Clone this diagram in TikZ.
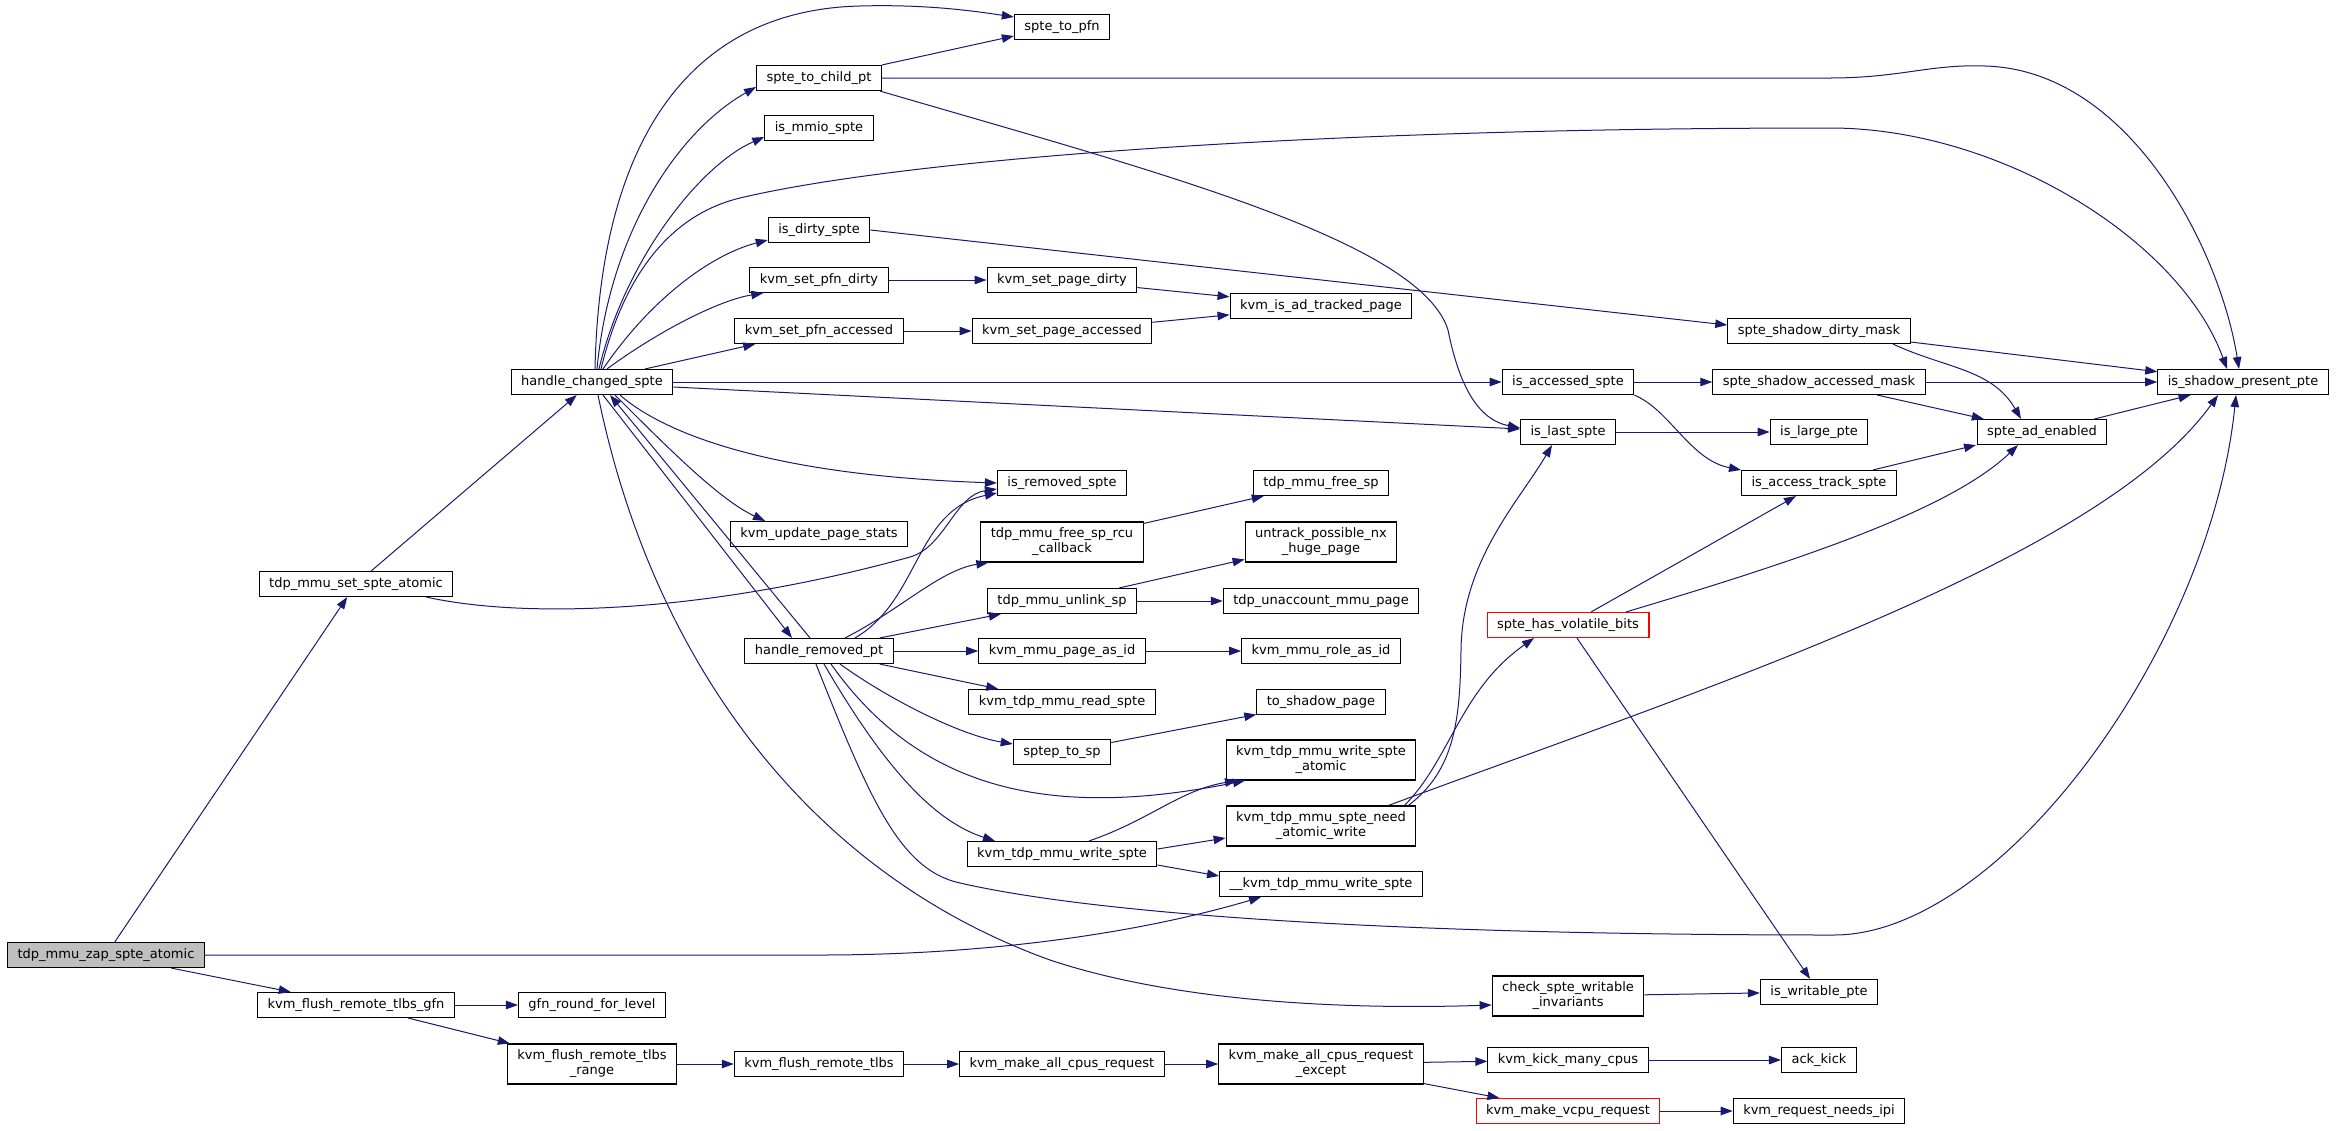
\documentclass[tikz,border=0pt]{standalone}
\usepackage{fontspec}
\setmainfont{DejaVu Sans}
\usetikzlibrary{arrows.meta}
\definecolor{edgeBlue}{HTML}{191970}
\newcommand{\fnFont}[0]{\fontsize{13}{15}\selectfont}

\begin{document}
\begin{tikzpicture}[x=1pt, y=-1pt]
  \tikzset{fn/.style={draw=black, line width=1.1pt, fill=white, font=\fnFont, align=center, minimum height=25pt, inner xsep=10pt, inner ysep=2pt}}
  \tikzset{fn2/.style={fn, minimum height=40pt}}
  \tikzset{call/.style={draw=edgeBlue, line width=1pt, -{Triangle[length=12pt,width=8.5pt]}}}
  \useasboundingbox (0,0) rectangle (2336,1130);

  % callers on the left
  \node[fn, fill=gray!50] (zap-atomic) at (106,955) {tdp\_mmu\_zap\_spte\_atomic};
  \node[fn] (set-atomic) at (356,584) {tdp\_mmu\_set\_spte\_atomic};
  \node[fn] (flush-gfn) at (356,1005) {kvm\_flush\_remote\_tlbs\_gfn};
  \node[fn] (handle-changed) at (592,382) {handle\_changed\_spte};
  \node[fn] (gfn-round) at (592,1005) {gfn\_round\_for\_level};
  \node[fn2] (flush-range) at (592,1064) {kvm\_flush\_remote\_tlbs\\\_range};

  % column 4
  \node[fn] (child-pt) at (819,78) {spte\_to\_child\_pt};
  \node[fn] (mmio) at (819,128) {is\_mmio\_spte};
  \node[fn] (dirty) at (819,230) {is\_dirty\_spte};
  \node[fn] (pfn-dirty) at (819,280) {kvm\_set\_pfn\_dirty};
  \node[fn] (pfn-accessed) at (819,331) {kvm\_set\_pfn\_accessed};
  \node[fn] (page-stats) at (819,534) {kvm\_update\_page\_stats};
  \node[fn] (handle-removed) at (819,651) {handle\_removed\_pt};
  \node[fn] (flush-tlbs) at (819,1064) {kvm\_flush\_remote\_tlbs};

  % column 5
  \node[fn] (to-pfn) at (1062,27) {spte\_to\_pfn};
  \node[fn] (page-dirty) at (1062,280) {kvm\_set\_page\_dirty};
  \node[fn] (page-accessed) at (1062,331) {kvm\_set\_page\_accessed};
  \node[fn] (removed) at (1062,483) {is\_removed\_spte};
  \node[fn2] (rcu-cb) at (1062,542) {tdp\_mmu\_free\_sp\_rcu\\\_callback};
  \node[fn] (unlink) at (1062,601) {tdp\_mmu\_unlink\_sp};
  \node[fn] (page-as-id) at (1062,651) {kvm\_mmu\_page\_as\_id};
  \node[fn] (read-spte) at (1062,702) {kvm\_tdp\_mmu\_read\_spte};
  \node[fn] (sptep-sp) at (1062,752) {sptep\_to\_sp};
  \node[fn] (write-spte) at (1062,854) {kvm\_tdp\_mmu\_write\_spte};
  \node[fn] (make-all) at (1062,1064) {kvm\_make\_all\_cpus\_request};

  % column 6
  \node[fn] (ad-tracked) at (1321,306) {kvm\_is\_ad\_tracked\_page};
  \node[fn] (free-sp) at (1321,483) {tdp\_mmu\_free\_sp};
  \node[fn2] (untrack) at (1321,542) {untrack\_possible\_nx\\\_huge\_page};
  \node[fn] (unaccount) at (1321,601) {tdp\_unaccount\_mmu\_page};
  \node[fn] (role-as-id) at (1321,651) {kvm\_mmu\_role\_as\_id};
  \node[fn] (shadow-page) at (1321,702) {to\_shadow\_page};
  \node[fn2] (write-atomic) at (1321,760) {kvm\_tdp\_mmu\_write\_spte\\\_atomic};
  \node[fn2] (need-atomic) at (1321,826) {kvm\_tdp\_mmu\_spte\_need\\\_atomic\_write};
  \node[fn] (raw-write) at (1321,884) {\_\_kvm\_tdp\_mmu\_write\_spte};
  \node[fn2] (make-except) at (1321,1064) {kvm\_make\_all\_cpus\_request\\\_except};

  % column 7 and beyond
  \node[fn] (accessed) at (1568,382) {is\_accessed\_spte};
  \node[fn] (last-spte) at (1568,432) {is\_last\_spte};
  \node[fn, draw=red] (volatile) at (1568,625) {spte\_has\_volatile\_bits};
  \node[fn2] (check-writable) at (1568,996) {check\_spte\_writable\\\_invariants};
  \node[fn] (kick-many) at (1568,1060) {kvm\_kick\_many\_cpus};
  \node[fn, draw=red] (vcpu-request) at (1568,1111) {kvm\_make\_vcpu\_request};
  \node[fn] (dirty-mask) at (1819,331) {spte\_shadow\_dirty\_mask};
  \node[fn] (accessed-mask) at (1819,382) {spte\_shadow\_accessed\_mask};
  \node[fn] (large-pte) at (1819,432) {is\_large\_pte};
  \node[fn] (track-spte) at (1819,483) {is\_access\_track\_spte};
  \node[fn] (writable) at (1819,992) {is\_writable\_pte};
  \node[fn] (ack-kick) at (1819,1060) {ack\_kick};
  \node[fn] (needs-ipi) at (1819,1111) {kvm\_request\_needs\_ipi};
  \node[fn] (ad-enabled) at (2042,432) {spte\_ad\_enabled};
  \node[fn] (present) at (2243,382) {is\_shadow\_present\_pte};

  % calls from the root
  \draw[call] (zap-atomic) -- (set-atomic);
  \draw[call] (zap-atomic) -- (flush-gfn);
  \draw[call] (zap-atomic.east) -- (820,955) .. controls (1000,955) and (1150,930) .. ([xshift=-60pt]raw-write.south);
  \draw[call] (set-atomic) -- (handle-changed);
  \draw[call] ([xshift=-27pt]set-atomic.south east) .. controls (520,618) and (700,615) .. (910,557) .. controls (945,547) and (955,495) .. ([yshift=-6pt]removed.west);
  \draw[call] (flush-gfn) -- (gfn-round);
  \draw[call] (flush-gfn) -- (flush-range);
  \draw[call] (flush-range) -- (flush-tlbs);
  \draw[call] (flush-tlbs) -- (make-all);
  \draw[call] (make-all) -- (make-except);
  \draw[call] (make-except) -- (kick-many);
  \draw[call] (make-except) -- (vcpu-request);
  \draw[call] (kick-many) -- (ack-kick);
  \draw[call] (vcpu-request) -- (needs-ipi);

  % handle_changed_spte
  \draw[call] ([xshift=3pt]handle-changed.north) .. controls (600,140) and (690,10) .. (860,6) .. controls (930,4) and (980,12) .. ([yshift=10pt]to-pfn.west);
  \draw[call] ([xshift=5pt]handle-changed.north) .. controls (610,230) and (680,130) .. ([yshift=-9pt]child-pt.west);
  \draw[call] ([xshift=7pt]handle-changed.north) .. controls (625,260) and (700,165) .. ([yshift=-9pt]mmio.west);
  \draw[call] ([xshift=9pt]handle-changed.north) .. controls (630,250) and (690,210) .. (740,198) .. controls (900,160) and (1300,128) .. (1830,128) .. controls (2000,128) and (2180,240) .. ([xshift=-16pt]present.north);
  \draw[call] ([xshift=11pt]handle-changed.north) .. controls (650,300) and (710,255) .. ([yshift=-10pt]dirty.west);
  \draw[call] ([xshift=15pt]handle-changed.north) .. controls (660,330) and (720,300) .. ([xshift=14pt]pfn-dirty.south west);
  \draw[call] ([xshift=53pt]handle-changed.north) -- ([xshift=21pt]pfn-accessed.south west);
  \draw[call] (handle-changed.east) -- (accessed.west);
  \draw[call] ([yshift=-5pt]handle-changed.east) -- ([yshift=3pt]last-spte.west);
  \draw[call] ([xshift=28pt]handle-changed.south) .. controls (660,430) and (760,475) .. (removed.west);
  \draw[call] ([xshift=23pt]handle-changed.south) .. controls (670,450) and (720,500) .. ([xshift=-54pt]page-stats.north);
  \draw[call] ([xshift=11pt]handle-changed.south) -- ([xshift=-27pt]handle-removed.north);
  \draw[call] ([xshift=-9pt]handle-removed.north) -- ([xshift=18pt]handle-changed.south);
  \draw[call] ([xshift=6pt]handle-changed.south) .. controls (650,650) and (800,870) .. (1050,960) .. controls (1200,1010) and (1400,1008) .. ([yshift=-9pt]check-writable.west);

  % spte_to_child_pt and the set_pfn helpers
  \draw[call] (child-pt.north east) -- ([yshift=-9pt]to-pfn.west);
  \draw[call] (child-pt.east) -- (1830,78) .. controls (1900,78) and (1930,64) .. (1985,66) .. controls (2130,70) and (2220,250) .. ([xshift=-4pt]present.north);
  \draw[call] ([xshift=-2pt]child-pt.south east) .. controls (1150,170) and (1420,240) .. (1448,330) .. controls (1460,390) and (1480,420) .. ([yshift=4pt]last-spte.west);
  \draw[call] (dirty.east) -- ([yshift=6pt]dirty-mask.west);
  \draw[call] (pfn-dirty) -- (page-dirty);
  \draw[call] (pfn-accessed) -- (page-accessed);
  \draw[call] (page-dirty) -- (ad-tracked);
  \draw[call] (page-accessed) -- (ad-tracked);

  % spte bit helpers
  \draw[call] (dirty-mask) -- (present);
  \draw[call] ([xshift=74pt]dirty-mask.south) to[out=-25, in=120] ([xshift=-21pt]ad-enabled.north);
  \draw[call] (accessed) -- (accessed-mask);
  \draw[call] (accessed-mask) -- (present);
  \draw[call] (accessed-mask) -- (ad-enabled);
  \draw[call] (ad-enabled) -- (present);
  \draw[call] (accessed.south east) .. controls (1670,410) and (1690,460) .. (track-spte.north west);
  \draw[call] (track-spte) -- ([xshift=-66pt]ad-enabled.south);
  \draw[call] (last-spte) -- (large-pte);
  \draw[call] (volatile) -- (track-spte);
  \draw[call] ([xshift=58pt]volatile.north) .. controls (1800,560) and (1950,510) .. ([xshift=-24pt]ad-enabled.south);
  \draw[call] (volatile) -- (writable);
  \draw[call] (check-writable) -- (writable);

  % spte_need_atomic_write
  \draw[call] ([xshift=-8pt]need-atomic.north east) .. controls (1455,770) and (1460,720) .. (1461,650) .. controls (1462,560) and (1520,500) .. ([xshift=-16pt]last-spte.south);
  \draw[call] ([xshift=-12pt]need-atomic.north east) .. controls (1450,760) and (1460,690) .. ([xshift=-34pt]volatile.south);
  \draw[call] ([xshift=-28pt]need-atomic.north east) .. controls (1700,690) and (2100,560) .. ([xshift=-25pt]present.south);

  % handle_removed_pt
  \draw[call] ([xshift=36pt]handle-removed.north) .. controls (920,600) and (915,510) .. ([yshift=-10pt]removed.west);
  \draw[call] ([xshift=26pt]handle-removed.north) .. controls (900,610) and (940,570) .. ([xshift=8pt]rcu-cb.south west);
  \draw[call] ([xshift=-14pt]handle-removed.north east) -- ([xshift=14pt]unlink.south west);
  \draw[call] (handle-removed) -- (page-as-id);
  \draw[call] ([xshift=-14pt]handle-removed.south east) -- ([xshift=30pt]read-spte.north west);
  \draw[call] ([xshift=21pt]handle-removed.south) .. controls (890,700) and (960,735) .. ([yshift=8pt]sptep-sp.west);
  \draw[call] ([xshift=12pt]handle-removed.south) .. controls (920,790) and (1050,820) .. ([xshift=-76pt]write-atomic.south);
  \draw[call] ([xshift=5pt]handle-removed.south) .. controls (880,760) and (930,820) .. ([xshift=-67pt]write-spte.north);
  \draw[call] ([xshift=-3pt]handle-removed.south) .. controls (870,800) and (900,870) .. (960,883) .. controls (1100,915) and (1400,935) .. (1834,935) .. controls (2000,935) and (2210,650) .. ([xshift=-7pt]present.south);
  \draw[call] (rcu-cb) -- (free-sp);
  \draw[call] (unlink) -- (untrack);
  \draw[call] (unlink) -- (unaccount);
  \draw[call] (page-as-id) -- (role-as-id);
  \draw[call] (sptep-sp) -- (shadow-page);

  % kvm_tdp_mmu_write_spte
  \draw[call] ([xshift=27pt]write-spte.north) .. controls (1150,820) and (1180,790) .. ([xshift=-84pt]write-atomic.south);
  \draw[call] ([yshift=5pt]write-spte.east) -- ([yshift=-12pt]need-atomic.west);
  \draw[call] ([yshift=-11pt]write-spte.east) -- ([yshift=8pt]raw-write.west);
\end{tikzpicture}
\end{document}
